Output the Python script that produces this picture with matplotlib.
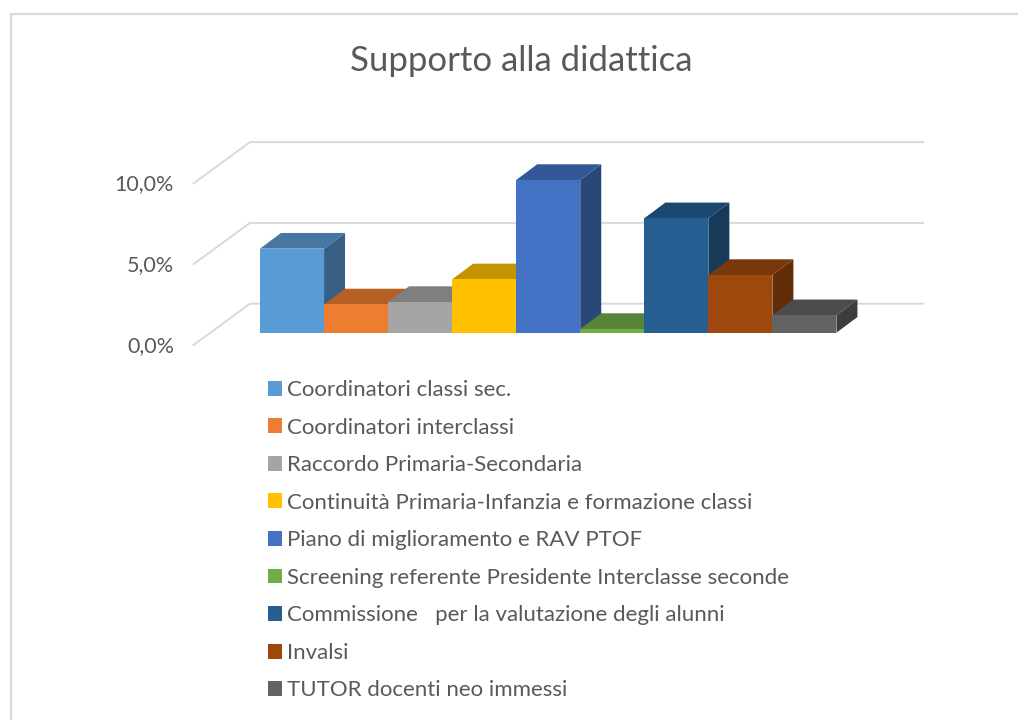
import matplotlib
matplotlib.use('Agg')
import matplotlib.pyplot as plt
from matplotlib.patches import Rectangle
from matplotlib.colors import to_rgb

# Dati
categorie = ['Coordinatori classi sec.', 'Coordinatori interclassi', 'Raccordo Primaria-Secondaria',
             'Continuità Primaria-Infanzia e formazione classi', 'Piano di miglioramento e RAV PTOF',
             'Screening referente Presidente Interclasse seconde', 'Commissione   per la valutazione degli alunni',
             'Invalsi', 'TUTOR docenti neo immessi']
valori = [5.2, 1.75, 1.9, 3.3, 9.45, 0.23, 7.08, 3.57, 1.08]
colori = ['#5B9BD5', '#ED7D31', '#A5A5A5', '#FFC000', '#4472C4', '#70AD47', '#255E91', '#9E480E', '#636363']
tick_valori = [0, 5, 10]
tick_etichette = ['0,0%', '5,0%', '10,0%']

W, H = 1018, 720
PX_X = 64.05     # pixel per categoria
PX_Y = 16.16     # pixel per punto percentuale
X0, Y0 = 260, 332.7
dx, dy = 21 / PX_X, 15.7 / PX_Y   # profondita delle barre


def scurisci(colore, f):
    return tuple(c * f for c in to_rgb(colore))


fig = plt.figure(figsize=(W / 100, H / 100), dpi=100)
ax = fig.add_axes([0, 0, 1, 1])
ax.set_xlim(-0.5 - X0 / PX_X, -0.5 + (W - X0) / PX_X)
ax.set_ylim(-(H - Y0) / PX_Y, Y0 / PX_Y)
ax.axis('off')

# cornice
fig.add_artist(Rectangle((10.5 / W, -0.1), 1.1, 0.1 + (H - 14) / H, transform=fig.transFigure,
                         fill=False, edgecolor='#D9D9D9', linewidth=1.6))

# griglia sulla parete e sul lato sinistro
x_fronte = (193.5 - X0) / PX_X - 0.5
x_retro = (250 - X0) / PX_X - 0.5
x_fine = (923 - X0) / PX_X - 0.5
y_fronte = -12.3 / PX_Y
y_retro = 29 / PX_Y
for t, et in zip(tick_valori, tick_etichette):
    ax.plot([x_fronte, x_retro, x_fine], [t + y_fronte, t + y_retro, t + y_retro],
            color='#D9D9D9', linewidth=1.4, zorder=1)
    ax.text(x_fronte - 19.5 / PX_X, t + y_fronte - 1 / PX_Y, et, ha='right', va='center',
            fontsize=15.5, color='#595959', family='Lato')

# barre: fianco, tetto e fronte
handles = []
for i, (nome, v, c) in enumerate(zip(categorie, valori, colori)):
    z = 2 + i
    x0, x1 = i - 0.5, i + 0.5
    ax.fill([x1, x1 + dx, x1 + dx, x1], [0, dy, v + dy, v], color=scurisci(c, 0.62), linewidth=0, zorder=z)
    ax.fill([x0, x0 + dx, x1 + dx, x1], [v, v + dy, v + dy, v], color=scurisci(c, 0.77), linewidth=0, zorder=z)
    b = ax.bar(i, v, width=1, color=c, label=nome, linewidth=0, zorder=z + 0.5)
    handles.append(b)

ax.legend(handles=handles, loc='upper left', bbox_to_anchor=(268 / W, 1 - 380 / H), bbox_transform=fig.transFigure,
          frameon=False, ncol=1, prop={'family': 'Lato', 'size': 16}, labelcolor='#595959',
          labelspacing=0.79, handlelength=0.65, handleheight=0.65, handletextpad=0.2, borderpad=0, borderaxespad=0)

fig.text(521 / W, 1 - 61 / H, 'Supporto alla didattica', ha='center', va='center',
         fontsize=25, color='#595959', family='Lato')

fig.savefig('out.png', dpi=100)
